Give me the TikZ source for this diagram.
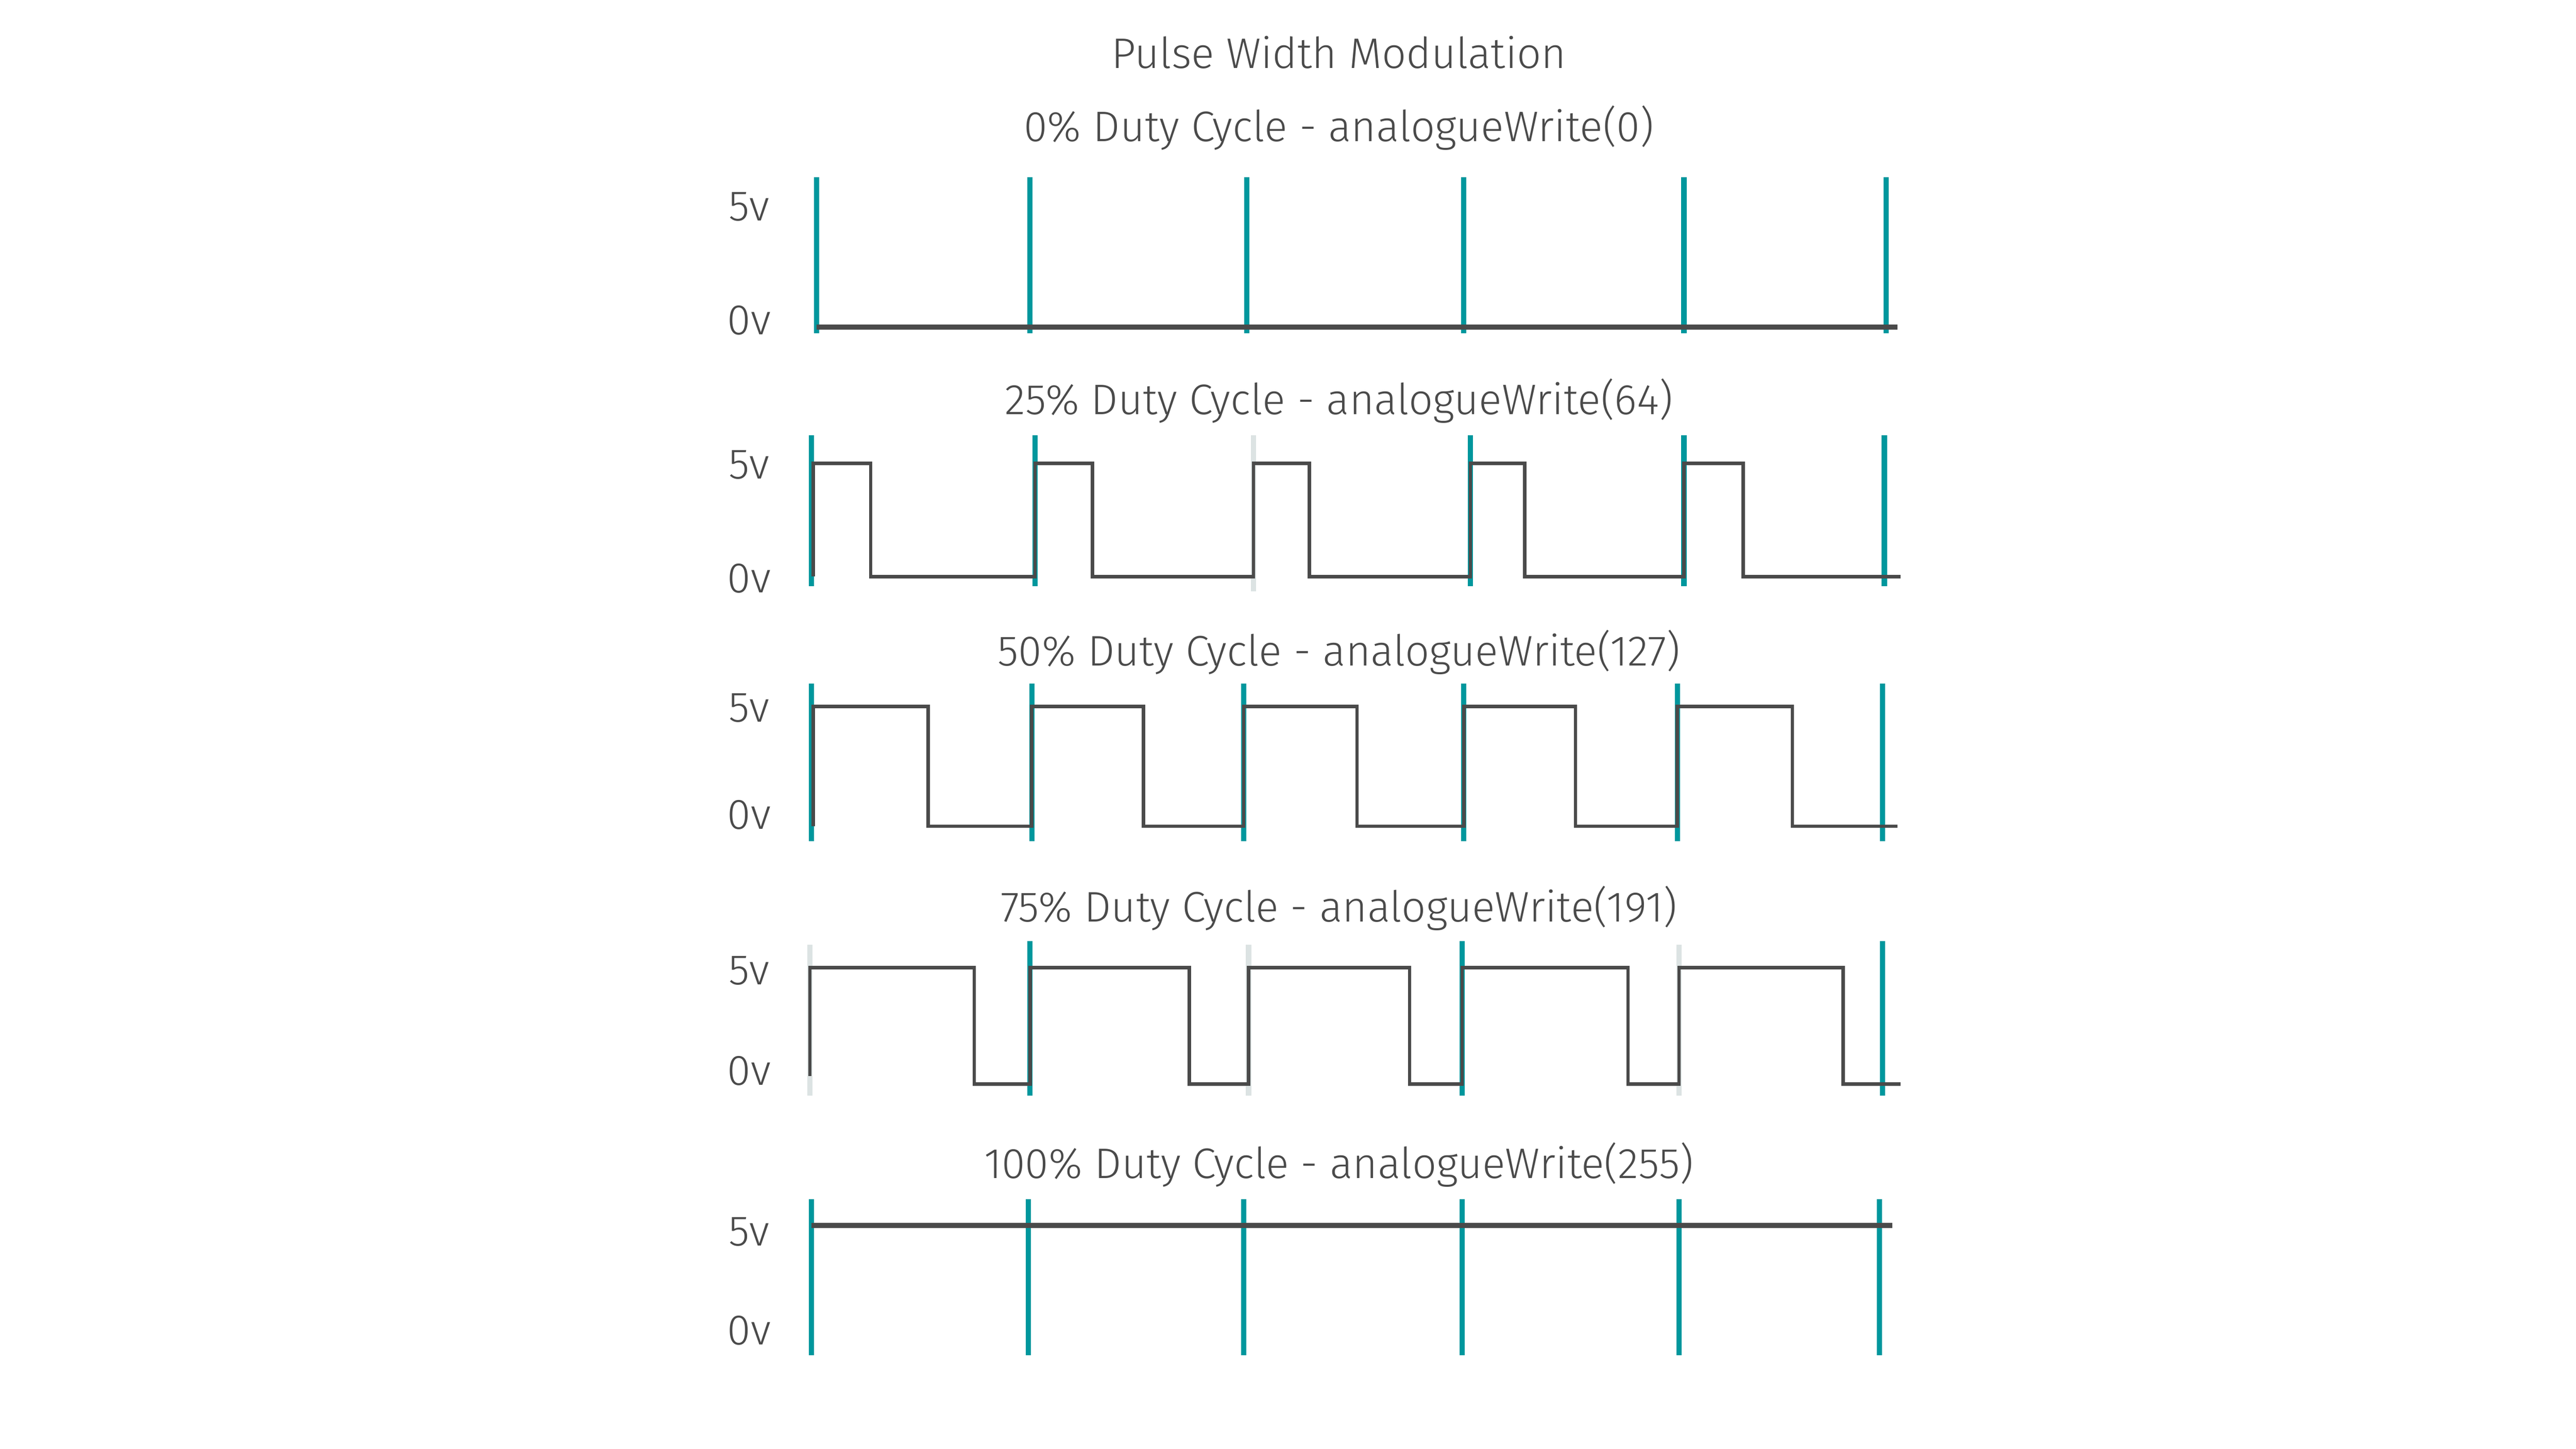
\documentclass[tikz,border=0pt]{standalone}
\usepackage{fontspec}
\setmainfont{Fira Sans Light}
\usetikzlibrary{positioning}
\definecolor{teal}{HTML}{00979D}
\definecolor{ghost}{HTML}{DCE3E3}
\definecolor{ink}{HTML}{4A4A4A}
\tikzset{%
  label/.style={text=ink, font=\fontsize{7.4}{8}\selectfont, inner sep=0pt},
  tick/.style={draw=teal, line width=0.9pt},
  ghosttick/.style={draw=ghost, line width=0.9pt},
  wave/.style={draw=ink, line width=0.6pt, line join=miter},
  base/.style={draw=ink, line width=0.9pt}
}
\begin{document}
\begin{tikzpicture}[x=0.01cm, y=-0.01cm]
  \useasboundingbox (0,0) rectangle (1568,882);

  \node[label] (title) at (815,32) {Pulse Width Modulation};

  % 0%
  \node[label] (t0) at (815,78) {0\% Duty Cycle - analogueWrite(0)};
  \node[label] (hi0) at (456,126) {5v};
  \node[label] (lo0) at (456,195) {0v};
  \foreach \x in {497,627,759,891,1025,1148}
    \draw[tick] (\x,108) -- (\x,203);
  \draw[base] (497,199) -- (1155,199);

  % 25%
  \node[label] (t25) at (815,244) {25\% Duty Cycle - analogueWrite(64)};
  \node[label] (hi25) at (456,283) {5v};
  \node[label] (lo25) at (456,352) {0v};
  \foreach \x in {494,630,895,1025,1147}
    \draw[tick] (\x,265) -- (\x,357);
  \draw[ghosttick] (763,265) -- (763,360);
  \draw[wave] (495,351) \foreach \r/\f/\n in {495/530/630,630/665/763,763/797/895,895/928/1025,1025/1061/1157}
    {-- (\r,282) -- (\f,282) -- (\f,351) -- (\n,351)};

  % 50%
  \node[label] (t50) at (815,397) {50\% Duty Cycle - analogueWrite(127)};
  \node[label] (hi50) at (456,431) {5v};
  \node[label] (lo50) at (456,496) {0v};
  \foreach \x in {494,628,757,891,1021,1146}
    \draw[tick] (\x,416) -- (\x,512);
  \draw[wave] (495,503) \foreach \r/\f/\n in {495/565/628,628/696/757,757/826/891,891/959/1021,1021/1091/1155}
    {-- (\r,430) -- (\f,430) -- (\f,503) -- (\n,503)};

  % 75%
  \node[label] (t75) at (815,553) {75\% Duty Cycle - analogueWrite(191)};
  \node[label] (hi75) at (456,591) {5v};
  \node[label] (lo75) at (456,652) {0v};
  \foreach \x in {493,760,1022}
    \draw[ghosttick] (\x,575) -- (\x,667);
  \foreach \x in {627,890,1146}
    \draw[tick] (\x,573) -- (\x,667);
  \draw[wave] (493,655) \foreach \r/\f/\n in {493/593/627,627/724/760,760/858/890,890/991/1022,1022/1122/1157}
    {-- (\r,589) -- (\f,589) -- (\f,660) -- (\n,660)};

  % 100%
  \node[label] (t100) at (815,709) {100\% Duty Cycle - analogueWrite(255)};
  \node[label] (hi100) at (456,750) {5v};
  \node[label] (lo100) at (456,810) {0v};
  \foreach \x in {494,626,757,890,1022,1144}
    \draw[tick] (\x,730) -- (\x,825);
  \draw[base] (494,746) -- (1152,746);
\end{tikzpicture}
\end{document}
